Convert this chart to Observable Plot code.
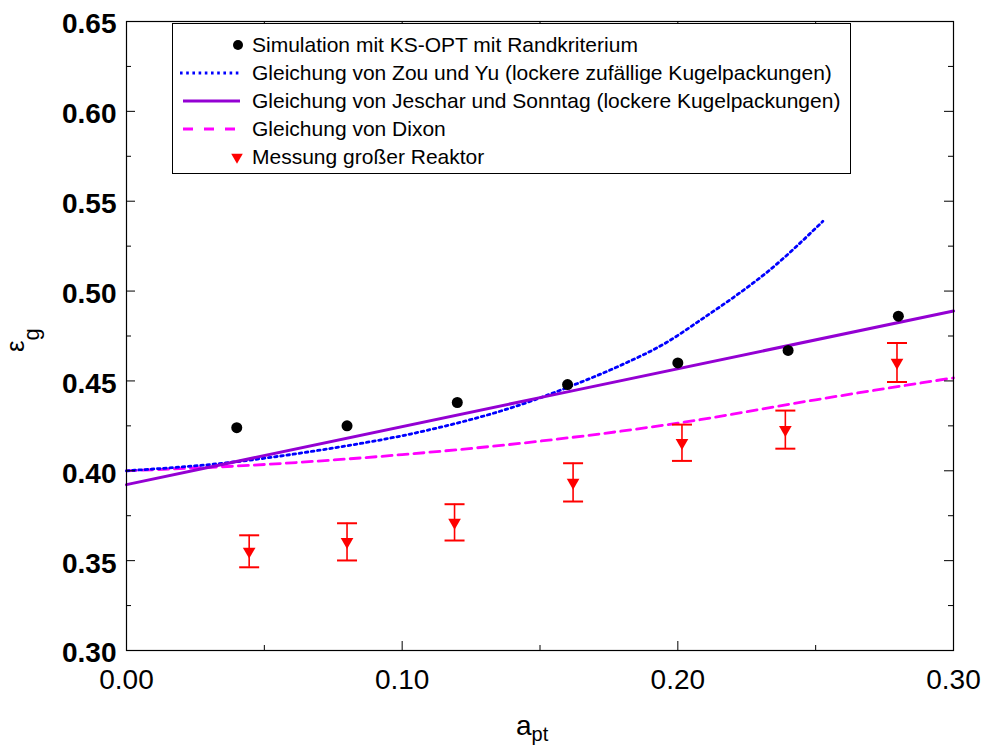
<!DOCTYPE html>
<html><head><meta charset="utf-8">
<script src="https://cdn.jsdelivr.net/npm/d3@7"></script>
<script src="https://cdn.jsdelivr.net/npm/@observablehq/plot@0.6"></script>
<style>body{margin:0;background:#fff} #chart{width:982px;height:746px}</style>
</head><body><div id="chart"></div>
<script>
// Simulation mit KS-OPT mit Randkriterium
const simX = [0.04, 0.08, 0.12, 0.16, 0.20, 0.24, 0.28];
const simY = [0.424, 0.425, 0.438, 0.448, 0.460, 0.467, 0.486];
// Messung großer Reaktor
const measX = [0.0445, 0.080, 0.119, 0.162, 0.2015, 0.239, 0.2795];
const measY = [0.3552, 0.3605, 0.3713, 0.3935, 0.4156, 0.4229, 0.4603];
const measLow = [0.3463, 0.3501, 0.3612, 0.3829, 0.4055, 0.4123, 0.4494];
const measHigh = [0.3641, 0.3708, 0.3814, 0.4042, 0.4257, 0.4335, 0.4711];
// Gleichung von Zou und Yu
const zouX = [0, 0.036, 0.073, 0.107, 0.143, 0.161, 0.179, 0.196, 0.209, 0.219, 0.233, 0.2526];
const zouY = [0.400, 0.4044, 0.4122, 0.4218, 0.4368, 0.4470, 0.4585, 0.4715, 0.4847, 0.4952, 0.5113, 0.5388];
// Gleichung von Jeschar und Sonntag
const jesX = [0, 0.15, 0.30];
const jesY = [0.3923, 0.4407, 0.4889];
// Gleichung von Dixon
const dixX = [0, 0.05, 0.10, 0.15, 0.20, 0.25, 0.30];
const dixY = [0.400, 0.4035, 0.4090, 0.4165, 0.4265, 0.4395, 0.4517];
// ticks
const xMajor = [0, 0.10, 0.20, 0.30];
const xMinor = [0.05, 0.15, 0.25];
const yMajor = [0.30, 0.35, 0.40, 0.45, 0.50, 0.55, 0.60, 0.65];
const yMinor = [0.325, 0.375, 0.425, 0.475, 0.525, 0.575, 0.625];
const legendLabels = [
  "Simulation mit KS-OPT mit Randkriterium",
  "Gleichung von Zou und Yu (lockere zufällige Kugelpackungen)",
  "Gleichung von Jeschar und Sonntag (lockere Kugelpackungen)",
  "Gleichung von Dixon",
  "Messung großer Reaktor"
];

const sim = simX.map((x, i) => ({x, y: simY[i]}));
const meas = measX.map((x, i) => ({x, y: measY[i], lo: measLow[i], hi: measHigh[i]}));
const zou = zouX.map((x, i) => ({x, y: zouY[i]}));
const jes = jesX.map((x, i) => ({x, y: jesY[i]}));
const dix = dixX.map((x, i) => ({x, y: dixY[i]}));

const W = 982, H = 746, mL = 126, mR = 29, mT = 21, mB = 96;
const iw = W - mL - mR, ih = H - mT - mB;
const capSymbol = {draw(ctx) { ctx.moveTo(-10, 0); ctx.lineTo(10, 0); }};
const fmt = d3.format(".2f");

const plot = Plot.plot({
  width: W, height: H,
  marginLeft: mL, marginRight: mR, marginTop: mT, marginBottom: mB,
  style: {fontFamily: "'Liberation Sans', Arial, sans-serif", background: "white", color: "black"},
  x: {domain: [0, 0.30]},
  y: {domain: [0.30, 0.65]},
  marks: [
    Plot.line(dix, {x: "x", y: "y", stroke: "#ff00ff", strokeWidth: 2.8, strokeDasharray: "10,6", curve: "monotone-x"}),
    Plot.line(zou, {x: "x", y: "y", stroke: "#0000ff", strokeWidth: 2.8, strokeDasharray: "2.6,3.6", curve: "monotone-x"}),
    Plot.line(jes, {x: "x", y: "y", stroke: "#9400d3", strokeWidth: 3}),
    Plot.dot(sim, {x: "x", y: "y", r: 5.5, fill: "black", stroke: "none"}),
    Plot.ruleX(meas, {x: "x", y1: "lo", y2: "hi", stroke: "#ff0000", strokeWidth: 1.6}),
    Plot.dot(meas, {x: "x", y: "lo", symbol: capSymbol, stroke: "#ff0000", fill: "none", strokeWidth: 2}),
    Plot.dot(meas, {x: "x", y: "hi", symbol: capSymbol, stroke: "#ff0000", fill: "none", strokeWidth: 2}),
    Plot.dot(meas, {x: "x", y: "y", symbol: "triangle", rotate: 180, r: 4.7, fill: "#ff0000", stroke: "none"}),
    // inward ticks on all four sides
    Plot.tickY(yMajor, {y: d => d, insetRight: iw - 9, stroke: "black"}),
    Plot.tickY(yMinor, {y: d => d, insetRight: iw - 5, stroke: "black"}),
    Plot.tickY(yMajor, {y: d => d, insetLeft: iw - 9, stroke: "black"}),
    Plot.tickY(yMinor, {y: d => d, insetLeft: iw - 5, stroke: "black"}),
    Plot.tickX(xMajor, {x: d => d, insetTop: ih - 9, stroke: "black"}),
    Plot.tickX(xMinor, {x: d => d, insetTop: ih - 5, stroke: "black"}),
    Plot.tickX(xMajor, {x: d => d, insetBottom: ih - 9, stroke: "black"}),
    Plot.tickX(xMinor, {x: d => d, insetBottom: ih - 5, stroke: "black"}),
    Plot.frame({stroke: "black", strokeWidth: 1.2}),
    Plot.axisY(yMajor, {tickSize: 0, tickPadding: 10, fontSize: 28, fontWeight: "bold", tickFormat: fmt, label: null, dy: 3}),
    Plot.axisX(xMajor, {tickSize: 0, tickPadding: 19, fontSize: 28, tickFormat: fmt, label: null})
  ]
});
document.getElementById("chart").appendChild(plot);

const svg = d3.select(plot);
// axis titles
const xt = svg.append("text").attr("x", 516).attr("y", 735).attr("font-size", 28)
  .attr("text-anchor", "start").attr("fill", "black");
xt.append("tspan").text("a");
xt.append("tspan").attr("dy", 6).attr("font-size", 20).text("pt");
const yt = svg.append("text").attr("transform", "translate(24,352) rotate(-90)").attr("font-size", 26)
  .attr("text-anchor", "start").attr("fill", "black");
yt.append("tspan").text("ε");
yt.append("tspan").attr("dy", 15).attr("font-size", 22).text("g");

// legend
const lg = svg.append("g").attr("font-size", 21).attr("text-anchor", "start")
  .attr("font-family", "'Liberation Sans', Arial, sans-serif");
lg.append("rect").attr("x", 172.5).attr("y", 23.5).attr("width", 678).attr("height", 150)
  .attr("fill", "white").attr("stroke", "black").attr("stroke-width", 1);
const rows = [45, 73, 101, 129, 157];
lg.append("circle").attr("cx", 238).attr("cy", rows[0]).attr("r", 5).attr("fill", "black");
lg.append("line").attr("x1", 180).attr("x2", 240).attr("y1", rows[1]).attr("y2", rows[1])
  .attr("stroke", "#0000ff").attr("stroke-width", 2.8).attr("stroke-dasharray", "2.6,3.6");
lg.append("line").attr("x1", 183).attr("x2", 240).attr("y1", rows[2]).attr("y2", rows[2])
  .attr("stroke", "#9400d3").attr("stroke-width", 3);
lg.append("line").attr("x1", 183).attr("x2", 240).attr("y1", rows[3]).attr("y2", rows[3])
  .attr("stroke", "#ff00ff").attr("stroke-width", 2.8).attr("stroke-dasharray", "10,11");
lg.append("path").attr("d", d3.symbol(d3.symbolTriangle, 4.3 * 4.3 * Math.PI)())
  .attr("transform", `translate(237,${rows[4]}) rotate(180)`).attr("fill", "#ff0000");
legendLabels.forEach((t, i) => {
  lg.append("text").attr("x", 252).attr("y", rows[i]).attr("dy", "0.35em").attr("fill", "black").text(t);
});
</script>
</body></html>
